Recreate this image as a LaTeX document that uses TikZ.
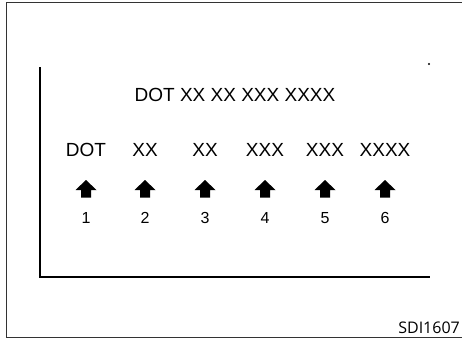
\documentclass[tikz,border=0pt]{standalone}
\usepackage{fontspec}
\setmainfont{Liberation Sans}
\newfontfamily\codefont{Open Sans}
\begin{document}
\begin{tikzpicture}[x=1pt,y=-1pt,
  lbl/.style={font=\fontsize{19}{19}\selectfont, inner sep=0pt, anchor=base},
  num/.style={font=\fontsize{16}{16}\selectfont, inner sep=0pt, anchor=base},
  uparrow/.style={fill=black}
]
\useasboundingbox (0,0) rectangle (462,338);
\fill[white] (0,0) rectangle (462,338);
% outer frame
\draw[line width=1pt, black!80] (463,2.7) -- (6,2.7) -- (6,337) -- (463,337);
% inner axes
\coordinate (top) at (40,67);
\coordinate (corner) at (40,277);
\coordinate (right) at (430,277);
\draw[line width=2pt] (top) -- (corner) -- (right);
\fill (429,64) circle (1.2pt);
% title
\node[lbl] (title) at (235,101) {DOT XX XX XXX XXXX};
% labels
\foreach \x/\t/\n in {86/DOT/1, 145/XX/2, 205/XX/3, 265/XXX/4, 325/XXX/5, 385/XXXX/6}{
  \node[lbl] (l\n) at (\x,156) {\t};
  \coordinate (a\n) at (\x,180);
  \fill[uparrow] (a\n) -- ++(10.5,10) -- ++(-5.5,0) -- ++(0,7.5) -- ++(-10,0) -- ++(0,-7.5) -- ++(-5.5,0) -- cycle;
  \node[num] (n\n) at (\x,223.5) {\n};
}
\node[font=\codefont\fontsize{16}{16}\selectfont, inner sep=0pt, anchor=base east] (code) at (460,333) {SDI1607};
\end{tikzpicture}
\end{document}
